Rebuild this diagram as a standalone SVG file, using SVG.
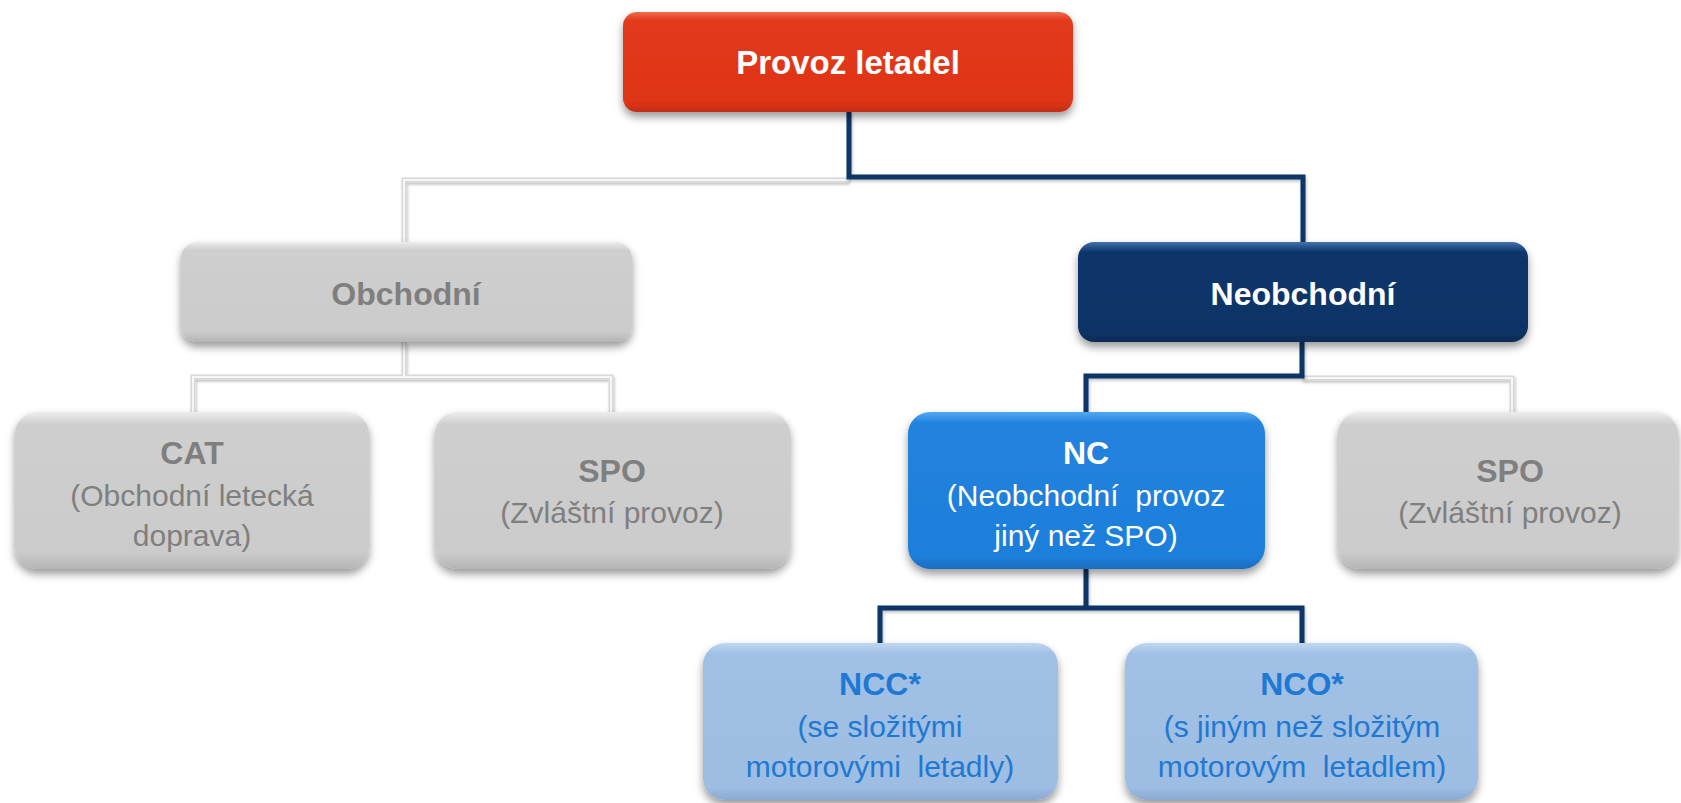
<svg xmlns="http://www.w3.org/2000/svg" width="1681" height="803" viewBox="0 0 1681 803">
  <defs>
    <filter id="sh" x="-10%" y="-20%" width="120%" height="150%">
      <feDropShadow dx="0" dy="5" stdDeviation="4" flood-color="#000" flood-opacity="0.4"/>
    </filter>
    <filter id="lsh" x="-10%" y="-10%" width="120%" height="120%">
      <feDropShadow dx="1" dy="2" stdDeviation="1.5" flood-color="#000" flood-opacity="0.25"/>
    </filter>
    <linearGradient id="gRed" x1="0" y1="0" x2="0" y2="1">
      <stop offset="0" stop-color="#F36B4F"/>
      <stop offset="0.08" stop-color="#E23A1C"/>
      <stop offset="0.9" stop-color="#DE3417"/>
      <stop offset="1" stop-color="#C42C12"/>
    </linearGradient>
    <linearGradient id="gNavy" x1="0" y1="0" x2="0" y2="1">
      <stop offset="0" stop-color="#4272AE"/>
      <stop offset="0.1" stop-color="#0C366B"/>
      <stop offset="0.9" stop-color="#0A3366"/>
      <stop offset="1" stop-color="#082B57"/>
    </linearGradient>
    <linearGradient id="gBlue" x1="0" y1="0" x2="0" y2="1">
      <stop offset="0" stop-color="#52A9F2"/>
      <stop offset="0.07" stop-color="#2182DE"/>
      <stop offset="0.92" stop-color="#1E7FDB"/>
      <stop offset="1" stop-color="#196DC0"/>
    </linearGradient>
    <linearGradient id="gGray" x1="0" y1="0" x2="0" y2="1">
      <stop offset="0" stop-color="#EDEDED"/>
      <stop offset="0.08" stop-color="#CFCFCF"/>
      <stop offset="0.9" stop-color="#CBCBCB"/>
      <stop offset="1" stop-color="#B4B4B4"/>
    </linearGradient>
    <linearGradient id="gLight" x1="0" y1="0" x2="0" y2="1">
      <stop offset="0" stop-color="#C0D6F0"/>
      <stop offset="0.07" stop-color="#A0C0E6"/>
      <stop offset="0.92" stop-color="#9DBDE3"/>
      <stop offset="1" stop-color="#8AAAD2"/>
    </linearGradient>
  </defs>
  <style>
    text { font-family: "Liberation Sans", Arial, sans-serif; text-anchor: middle; }
    .t1 { font-size: 33px; font-weight: bold; fill: #FFFFFF; }
    .t2 { font-size: 32px; font-weight: bold; }
    .t3 { font-size: 32px; font-weight: bold; }
    .s { font-size: 30px; white-space: pre; }
    .grayT { fill: #7F7F7F; }
    .whiteT { fill: #FFFFFF; }
    .blueT { fill: #1F78D2; }
    .dark { fill: none; stroke: #0D3466; stroke-width: 5; stroke-linejoin: miter; }
    .lgo { fill: none; stroke: #D8D8D8; stroke-width: 5; }
    .lgi { fill: none; stroke: #F6F6F6; stroke-width: 2; }
  </style>
  <rect width="1681" height="803" fill="#FFFFFF"/>

  <g id="connectors">
    <g filter="url(#lsh)">
      <path class="lgo" d="M849,180 H404 V242"/>
      <path class="lgo" d="M404,342 V377 H193 V412 M404,377 H611 V412"/>
      <path class="lgo" d="M1302,378 H1512 V412"/>
    </g>
    <path class="lgi" d="M849,180 H404 V242"/>
    <path class="lgi" d="M404,342 V377 H193 V412 M404,377 H611 V412"/>
    <path class="lgi" d="M1302,378 H1512 V412"/>
    <g filter="url(#lsh)">
      <path class="dark" d="M849,112 V177 H1303 V242"/>
      <path class="dark" d="M1302,342 V376 H1086 V412"/>
      <path class="dark" d="M1086,569 V608 H880 V643 M1086,608 H1302 V643"/>
    </g>
  </g>

  <g id="node-provoz">
    <rect x="623" y="12" width="450" height="100" rx="14" fill="url(#gRed)" filter="url(#sh)"/>
    <text class="t1" x="848" y="74">Provoz letadel</text>
  </g>

  <g id="node-obchodni">
    <rect x="181" y="242" width="451" height="100" rx="16" fill="url(#gGray)" filter="url(#sh)"/>
    <text class="t2 grayT" x="406" y="305">Obchodní</text>
  </g>

  <g id="node-neobchodni">
    <rect x="1078" y="242" width="450" height="100" rx="16" fill="url(#gNavy)" filter="url(#sh)"/>
    <text class="t2 whiteT" x="1303" y="305">Neobchodní</text>
  </g>

  <g id="node-cat">
    <rect x="15" y="412" width="354" height="157" rx="22" fill="url(#gGray)" filter="url(#sh)"/>
    <text class="t3 grayT" x="192" y="464">CAT</text>
    <text class="s grayT" x="192" y="506">(Obchodní letecká</text>
    <text class="s grayT" x="192" y="546">doprava)</text>
  </g>

  <g id="node-spo1">
    <rect x="435" y="412" width="355" height="157" rx="22" fill="url(#gGray)" filter="url(#sh)"/>
    <text class="t3 grayT" x="612" y="482">SPO</text>
    <text class="s grayT" x="612" y="523">(Zvláštní provoz)</text>
  </g>

  <g id="node-nc">
    <rect x="908" y="412" width="357" height="157" rx="22" fill="url(#gBlue)" filter="url(#sh)"/>
    <text class="t3 whiteT" x="1086" y="464">NC</text>
    <text class="s whiteT" x="1086" y="506" xml:space="preserve">(Neobchodní  provoz</text>
    <text class="s whiteT" x="1086" y="546">jiný než SPO)</text>
  </g>

  <g id="node-spo2">
    <rect x="1338" y="412" width="340" height="157" rx="22" fill="url(#gGray)" filter="url(#sh)"/>
    <text class="t3 grayT" x="1510" y="482">SPO</text>
    <text class="s grayT" x="1510" y="523">(Zvláštní provoz)</text>
  </g>

  <g id="node-ncc">
    <rect x="703" y="643" width="355" height="157" rx="22" fill="url(#gLight)" filter="url(#sh)"/>
    <text class="t3 blueT" x="880" y="695">NCC*</text>
    <text class="s blueT" x="880" y="737">(se složitými</text>
    <text class="s blueT" x="880" y="777" xml:space="preserve">motorovými  letadly)</text>
  </g>

  <g id="node-nco">
    <rect x="1125" y="643" width="353" height="157" rx="22" fill="url(#gLight)" filter="url(#sh)"/>
    <text class="t3 blueT" x="1302" y="695">NCO*</text>
    <text class="s blueT" x="1302" y="737">(s jiným než složitým</text>
    <text class="s blueT" x="1302" y="777" xml:space="preserve">motorovým  letadlem)</text>
  </g>
</svg>
